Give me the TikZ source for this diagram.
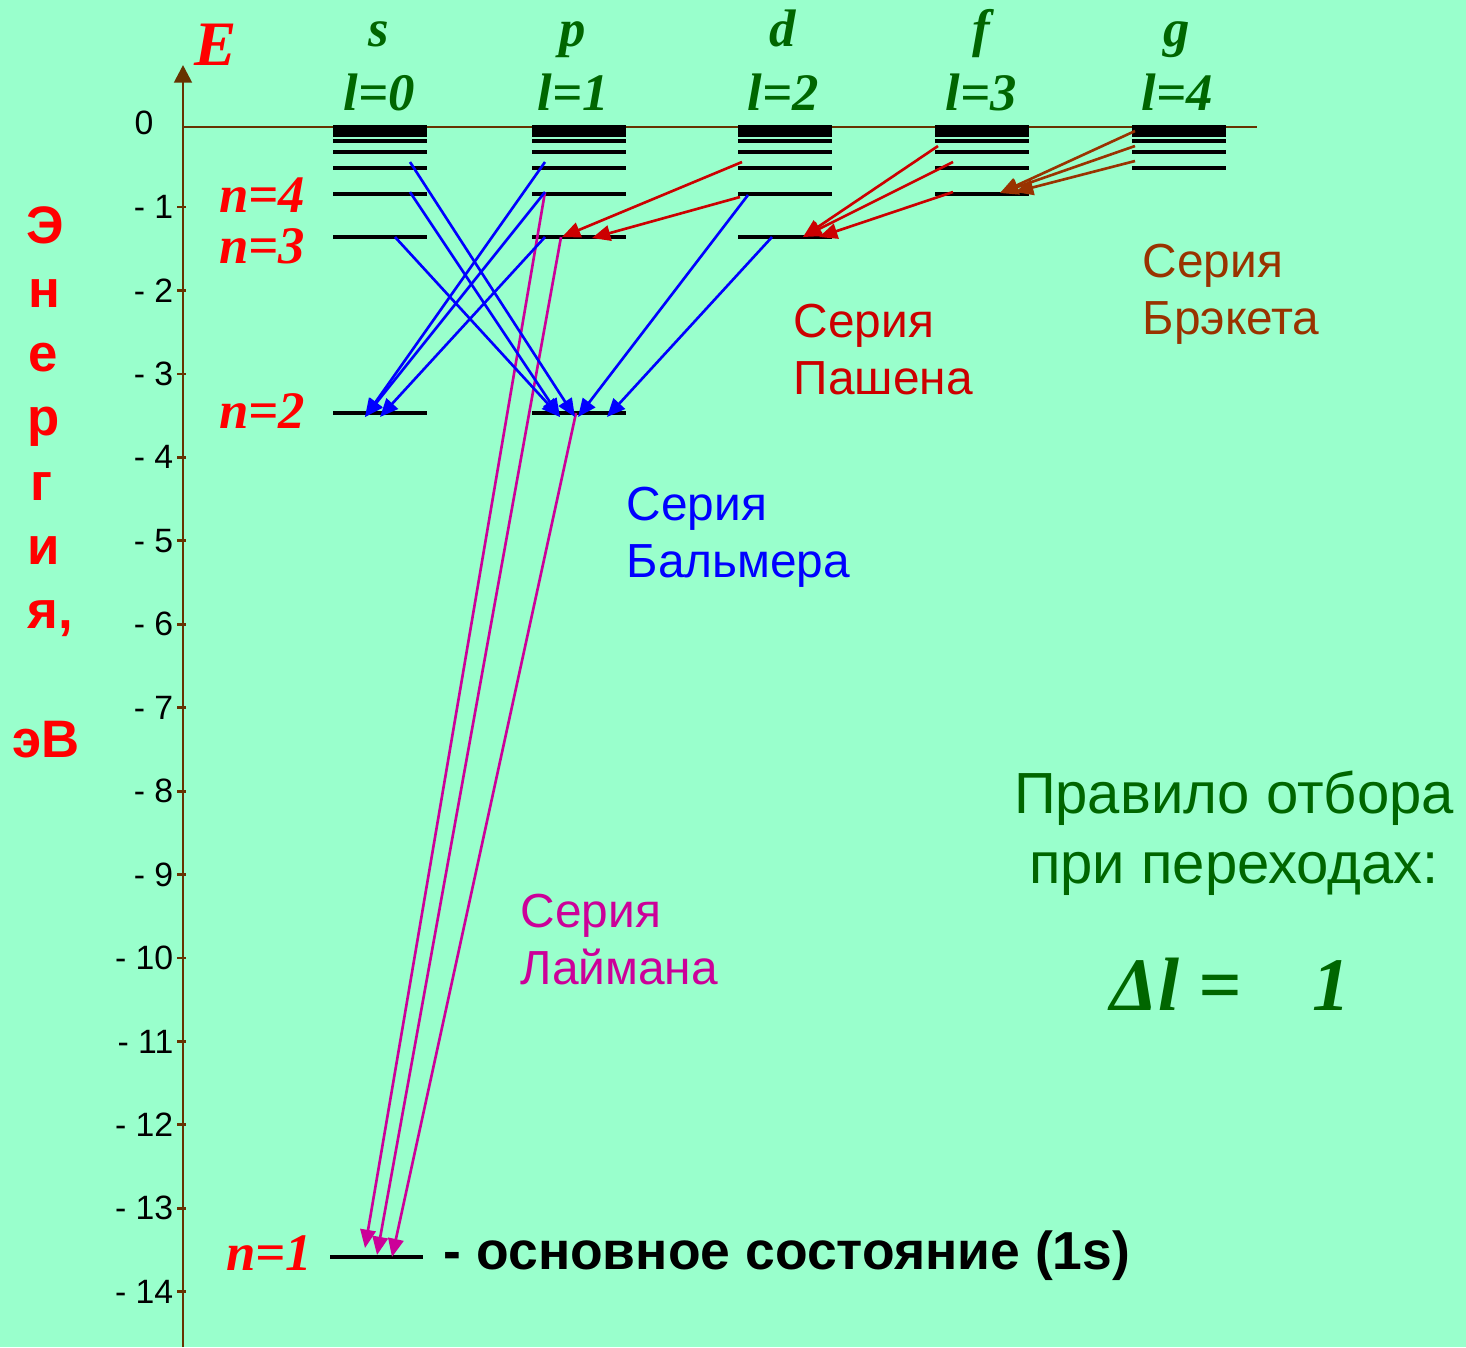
\documentclass[tikz,border=0pt]{standalone}
\usepackage{fontspec}
\setmainfont{Liberation Sans}
\newfontfamily\tnr{Liberation Serif}
\usepackage{tikz}
\usetikzlibrary{arrows.meta}
\definecolor{mint}{HTML}{99FFCC}
\definecolor{axisbrown}{HTML}{663300}
\definecolor{darkgreen}{HTML}{006600}
\definecolor{labred}{HTML}{FF0000}
\definecolor{pashred}{HTML}{CC0000}
\definecolor{brackbrown}{HTML}{993300}
\definecolor{lymanpink}{HTML}{CC0099}

\begin{document}
\begin{tikzpicture}[x=0.01cm, y=-0.01cm,
  lvl/.style={draw=black, line width=1.05pt},
  axisline/.style={draw=axisbrown, line width=0.8pt},
  jump/.style={line width=0.75pt, -{Triangle[length=5.2pt,width=4.4pt]}},
  series/.style={align=left, anchor=north west, inner sep=0pt, font=\fontsize{13.6}{16.4}\selectfont},
  nlab/.style={text=labred, anchor=base, font=\tnr\bfseries\itshape\fontsize{15}{18}\selectfont},
  orb/.style={text=darkgreen, anchor=base, font=\tnr\bfseries\itshape\fontsize{15}{18}\selectfont},
  ticklab/.style={anchor=east, inner sep=0pt, font=\fontsize{9.6}{11}\selectfont},
  etitle/.style={text=labred, anchor=base, font=\bfseries\fontsize{15}{18}\selectfont}]
\fill[mint] (0,0) rectangle (1466,1347);
\useasboundingbox (0,0) rectangle (1466,1347);

% energy axis
\draw[axisline, -{Triangle[length=5pt,width=5pt]}] (183,1347) -- (183,65);
\draw[draw=axisbrown, line width=0.5pt] (183,127) -- (1257,127);
\node[ticklab] (t0) at (154,123) {0};
\foreach \k in {1,...,14} {
  \draw[axisline] (177,{123.6+83.44*\k}) -- (186,{123.6+83.44*\k});
  \node[ticklab] (t\k) at (174,{123.6+83.44*\k}) {- \k};
}

% levels
\foreach \xl/\ys in {333/{413,237,194,168,152,141,135,131},532/{413,237,194,168,152,141,135,131},
                     738/{237,194,168,152,141,135,131},935/{194,168,152,141,135,131},1132/{168,152,141,135,131}}
  \foreach \y in \ys
    \draw[lvl] (\xl,\y) -- ++(94,0);
\foreach \xl in {333,532,738,935,1132}
  \draw[lvl, line width=1.3pt] (\xl,127.5) -- ++(94,0);
\draw[lvl] (330,1257) -- (423,1257);

% headers
\node[text=labred, anchor=base, font=\tnr\bfseries\itshape\fontsize{18}{20}\selectfont] (E) at (216,65) {E};
\foreach \nm/\lv/\xc in {s/0/379, p/1/573, d/2/783, f/3/981, g/4/1177} {
  \node[orb] (h\lv) at (\xc,46) {\nm};
  \node[orb] (l\lv) at (\xc,110) {l=\lv};
}
\node[nlab] (n4) at (262,212) {n=4};
\node[nlab] (n3) at (262,263) {n=3};
\node[nlab] (n2) at (262,428) {n=2};
\node[nlab] (n1) at (269,1270) {n=1};

% axis title
\foreach \ch/\xc [count=\i from 0] in {Э/45,н/44,е/43,р/44,г/41,и/44,{я,}/50}
  \node[etitle] (en\i) at (\xc,{243+64.25*\i}) {\ch};
\node[etitle] (ev) at (46,757) {эВ};

% end points
\coordinate (s5) at (410,162); \coordinate (s4) at (410,192); \coordinate (s3) at (395,237);
\coordinate (p5) at (545,162); \coordinate (p4) at (545,192); \coordinate (p3) at (545,237);
\coordinate (d4) at (748,195); \coordinate (d3) at (772,237);
\coordinate (s2a) at (365,417); \coordinate (s2b) at (380,417);
\coordinate (p2a) at (560,417); \coordinate (p2b) at (575,417);
\coordinate (p2c) at (578,417); \coordinate (p2d) at (607,417);
\coordinate (d5) at (742,162); \coordinate (d4r) at (740,197);
\coordinate (p3a) at (562,237); \coordinate (p3b) at (592,238);
\coordinate (f6) at (938,146); \coordinate (f5) at (953,162); \coordinate (f4) at (953,192);
\coordinate (d3a) at (803,237); \coordinate (d3b) at (819,237);
\coordinate (g7) at (1135,131); \coordinate (g6) at (1135,146); \coordinate (g5) at (1135,161);
\coordinate (f4a) at (1000,193); \coordinate (f4b) at (1015,192);
\coordinate (p4m) at (545,192); \coordinate (p3m) at (561,237); \coordinate (p2m) at (576,413);
\coordinate (s1a) at (365,1248); \coordinate (s1b) at (377,1255); \coordinate (s1c) at (392,1257);

% Lyman
\draw[jump, lymanpink] (p4m) -- (s1a);
\draw[jump, lymanpink] (p3m) -- (s1b);
\draw[jump, lymanpink] (p2m) -- (s1c);
% Balmer
\draw[jump, blue] (s5) -- (p2b);
\draw[jump, blue] (s4) -- (p2a);
\draw[jump, blue] (s3) -- (p2a);
\draw[jump, blue] (p5) -- (s2a);
\draw[jump, blue] (p4) -- (s2a);
\draw[jump, blue] (p3) -- (s2b);
\draw[jump, blue] (d4) -- (p2c);
\draw[jump, blue] (d3) -- (p2d);
% Paschen
\draw[jump, pashred] (d5) -- (p3a);
\draw[jump, pashred] (d4r) -- (p3b);
\draw[jump, pashred] (f6) -- (d3a);
\draw[jump, pashred] (f5) -- (d3a);
\draw[jump, pashred] (f4) -- (d3b);
% Brackett
\draw[jump, brackbrown] (g7) -- (f4a);
\draw[jump, brackbrown] (g6) -- (f4a);
\draw[jump, brackbrown] (g5) -- (f4b);

% series names
\node[series, text=pashred] (pash) at (793,303) {Серия\\Пашена};
\node[series, text=brackbrown] (brack) at (1142,243) {Серия\\Брэкета};
\node[series, text=blue] (balm) at (626,486) {Серия\\Бальмера};
\node[series, text=lymanpink] (lym) at (520,893) {Серия\\Лаймана};

% selection rule
\node[align=center, anchor=north, inner sep=0pt, text=darkgreen, font=\fontsize{16.5}{19.9}\selectfont] (rule) at (1234,770) {Правило отбора\\при переходах:};
\node[anchor=base west, inner sep=0pt, text=darkgreen, font=\tnr\bfseries\itshape\fontsize{21.5}{24}\selectfont] (dl) at (1110,1010) {Δl =\hspace{0.95em}1};

\node[anchor=base west, inner sep=0pt, font=\bfseries\fontsize{15.2}{18}\selectfont] (gs) at (443,1269) {- основное состояние (1s)};
\end{tikzpicture}
\end{document}
